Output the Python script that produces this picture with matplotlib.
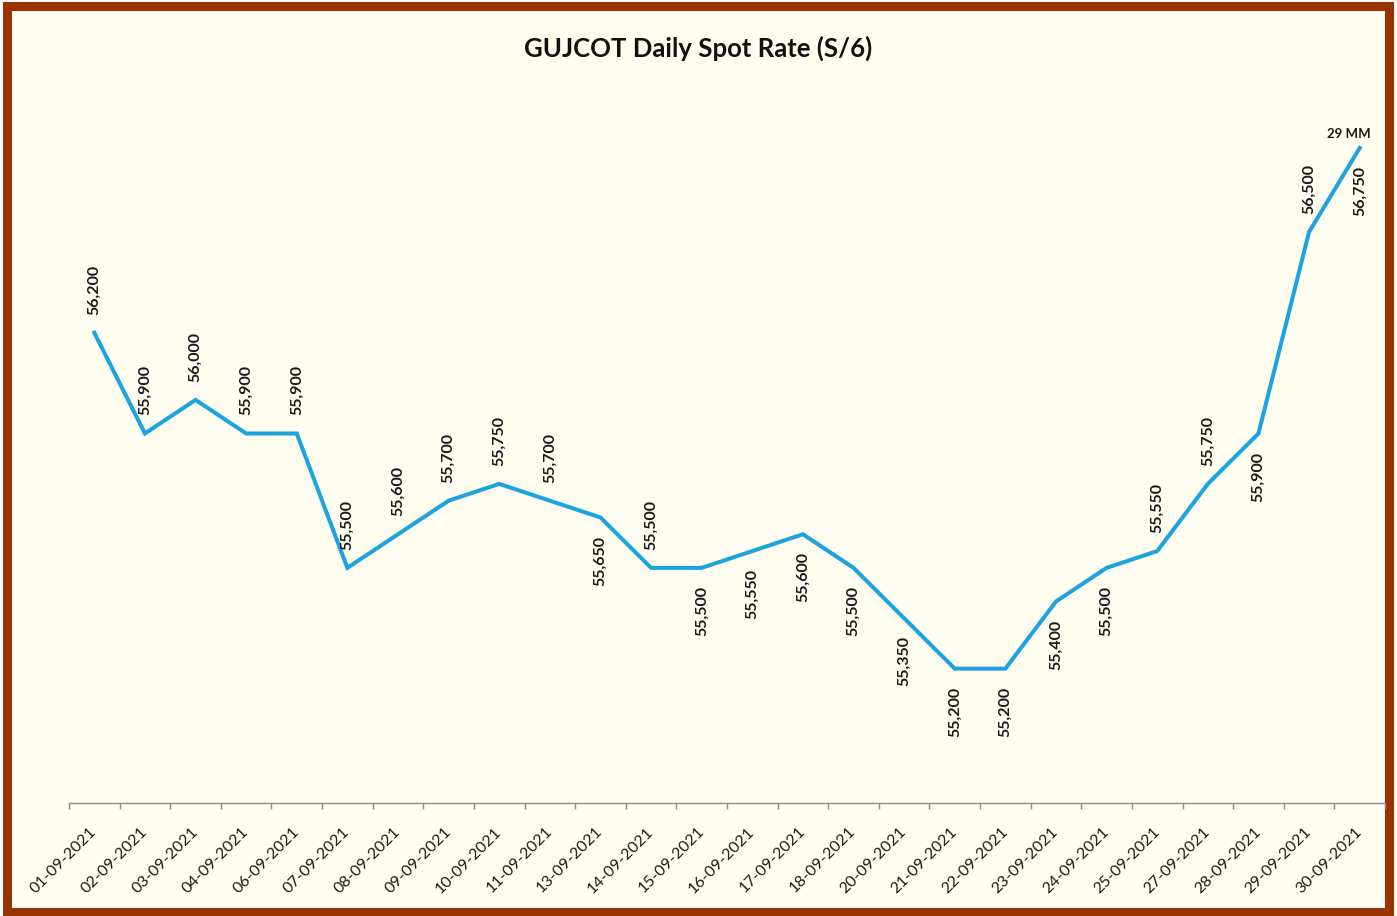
import numpy as np
import matplotlib
matplotlib.use("Agg")
import matplotlib.pyplot as plt
from matplotlib.patches import Rectangle

plt.rcParams['font.family'] = ['Lato', 'DejaVu Sans']

# Données
dates = ["01-09-2021", "02-09-2021", "03-09-2021", "04-09-2021", "06-09-2021",
         "07-09-2021", "08-09-2021", "09-09-2021", "10-09-2021", "11-09-2021",
         "13-09-2021", "14-09-2021", "15-09-2021", "16-09-2021", "17-09-2021",
         "18-09-2021", "20-09-2021", "21-09-2021", "22-09-2021", "23-09-2021",
         "24-09-2021", "25-09-2021", "27-09-2021", "28-09-2021", "29-09-2021",
         "30-09-2021"]
rates = [56200, 55900, 56000, 55900, 55900, 55500, 55600, 55700, 55750, 55700,
         55650, 55500, 55500, 55550, 55600, 55500, 55350, 55200, 55200, 55400,
         55500, 55550, 55750, 55900, 56500, 56750]
note = "29 MM"

# position des étiquettes (au-dessus / en dessous)
label_pos = ["a", "a", "a", "a", "a", "a", "a", "a", "a", "a",
             "b", "a", "b", "b", "b", "b", "b", "b", "b", "b",
             "b", "a", "a", "b", "a", "b"]

W, H = 1397, 916
fig = plt.figure(figsize=(W / 100, H / 100), dpi=100, facecolor="white")

# cadre
fig.patches.append(Rectangle((7 / W, 4 / H), 1382 / W, 906 / H,
                             transform=fig.transFigure, facecolor="#fffcf0",
                             edgecolor="#993300", linewidth=6.5, zorder=-1))

ax = fig.add_axes([69 / W, 1 - 803 / H, (1385 - 69) / W, (803 - 64) / H])
ax.set_facecolor("none")

x = np.arange(len(dates))
ax.plot(x, rates, color="#1ca3e0", linewidth=2.9, solid_joinstyle="miter")

for xi, v, p in zip(x, rates, label_pos):
    dy = 31 if p == "a" else -31
    ax.annotate(f"{v:,}", (xi, v), xytext=(0, dy), textcoords="offset points",
                rotation=90, ha="center", va="center", fontsize=11.5,
                fontweight="bold", color="#1a1a1a")

ax.annotate(note, (x[-1], rates[-1]), xytext=(-8, 6), textcoords="offset points",
            ha="center", va="bottom", fontsize=9.5, fontweight="bold", color="#1a1a1a")

ax.set_xlim(-0.5, len(dates) - 0.5)
ax.set_ylim(54800, 57000)
ax.set_yticks([])
for s in ["top", "right", "left"]:
    ax.spines[s].set_visible(False)
ax.spines["bottom"].set_color("#8c8c8c")
ax.spines["bottom"].set_linewidth(1)

ax.set_xticks(x)
ax.set_xticklabels(dates, rotation=45, ha="right", va="center",
                   rotation_mode="anchor", fontsize=11.5, color="#1a1a1a")
ax.tick_params(axis="x", which="major", length=0, pad=19)
ax.set_xticks(np.arange(-0.5, len(dates)), minor=True)
ax.tick_params(axis="x", which="minor", length=4.5, color="#8c8c8c", width=1)

fig.text(0.5, 1 - 48 / H, "GUJCOT Daily Spot Rate (S/6)", ha="center", va="center",
         fontsize=18.5, fontweight="bold", color="#111111")

fig.savefig("out.png", dpi=100, facecolor=fig.get_facecolor())
